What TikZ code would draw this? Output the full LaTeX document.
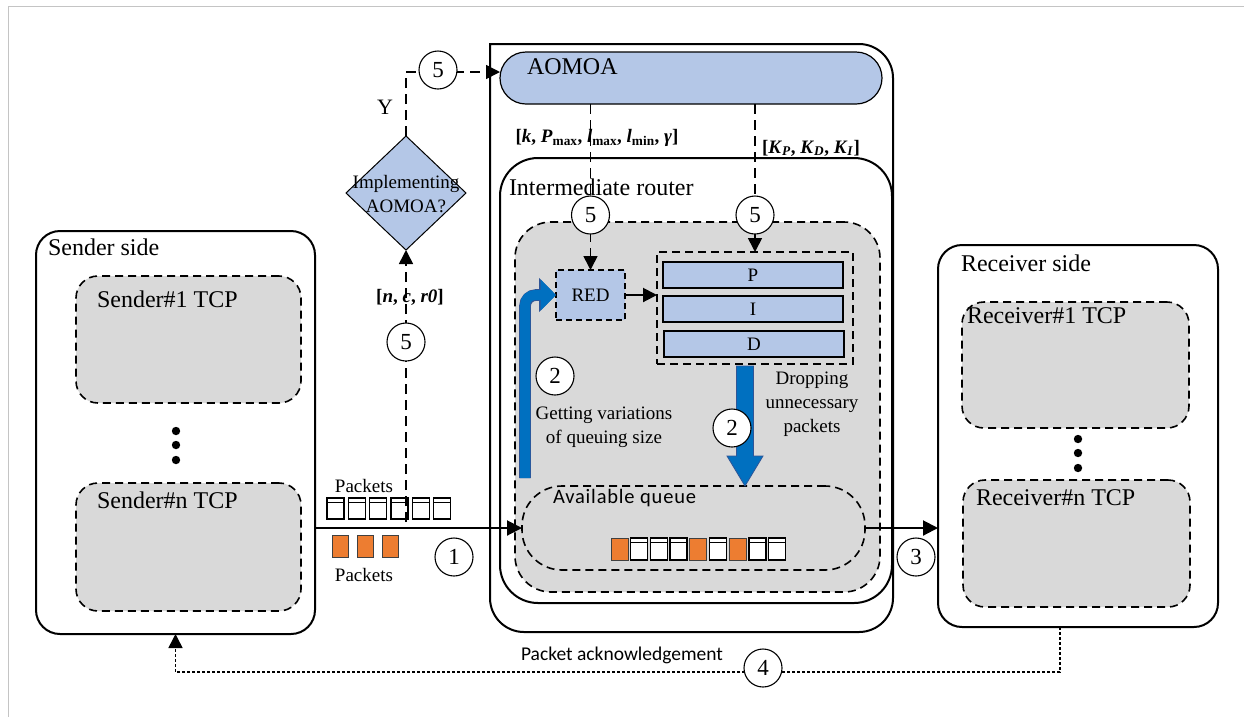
\documentclass[tikz,border=0pt]{standalone}
\usepackage{fontspec}
\setmainfont{Liberation Serif}
\newfontfamily\calib{Carlito}
\newfontfamily\calibwide[LetterSpace=4]{Carlito}
\usetikzlibrary{arrows.meta,shapes.geometric,calc}
\definecolor{paleblue}{HTML}{B4C7E7}
\definecolor{boxgray}{HTML}{D9D9D9}
\definecolor{flowblue}{HTML}{0070C0}
\definecolor{flowedge}{HTML}{2F5597}
\definecolor{pktorange}{HTML}{ED7D31}
\definecolor{framegray}{HTML}{C4C4C4}
\begin{document}
\begin{tikzpicture}[x=1pt,y=-1pt,
  every node/.style={inner sep=0pt,outer sep=0pt},
  f24/.style={font=\fontsize{24}{28}\selectfont},
  f22/.style={font=\fontsize{22}{26}\selectfont},
  f19/.style={font=\fontsize{19}{24}\selectfont},
  fbold/.style={font=\fontsize{19}{22}\selectfont\bfseries},
  fsans/.style={font=\calib\fontsize{19.5}{23}\selectfont},
  sidebox/.style={draw,line width=2pt,rounded corners=24pt,fill=white},
  tcpbox/.style={draw,fill=boxgray,line width=1.6pt,dash pattern=on 8pt off 5pt,rounded corners=22pt},
  bluebox/.style={draw,fill=paleblue,line width=1.3pt},
  numc/.style={circle,draw,fill=white,line width=1.1pt,minimum size=38pt,font=\fontsize{23}{24}\selectfont},
  linedash/.style={line width=1.6pt,dash pattern=on 10pt off 6pt},
  mainline/.style={line width=2pt},
  ackline/.style={line width=1.6pt,dash pattern=on 3pt off 2pt},
  arr/.style={-{Triangle[length=15pt,width=15pt]}},
  sarr/.style={-{Triangle[length=14pt,width=14pt]}},
  wpkt/.style={draw,fill=white,line width=1.3pt,minimum width=17pt,minimum height=21pt,
    path picture={\draw[line width=1pt] ([yshift=-4pt]path picture bounding box.north west) -- ([yshift=-4pt]path picture bounding box.north east);}},
  opkt/.style={draw=black!75,fill=pktorange,line width=0.8pt,minimum width=16pt,minimum height=22pt}
]
\useasboundingbox (0,0) rectangle (1244,716);
\fill[white] (0,0) rectangle (1244,716);
\draw[framegray,line width=1pt] (1250,6) -- (8,6) -- (8,720);

% ---------- sender side ----------
\node[sidebox,minimum width=279pt,minimum height=403pt] (sender) at (175.5,432.5) {};
\node[f24,anchor=west] (sendertitle) at (48,247) {Sender side};
\node[tcpbox,minimum width=225pt,minimum height=127pt] (snd1) at (188.5,339.5) {};
\node[f24,anchor=west] (snd1t) at (97,299) {Sender\#1 TCP};
\node[tcpbox,minimum width=225pt,minimum height=128pt] (sndn) at (188.5,547) {};
\node[f24,anchor=west] (sndnt) at (97,500) {Sender\#n TCP};
\foreach \yy in {431,445,460} \fill (176,\yy) circle (4.2pt);

% ---------- receiver side ----------
\node[sidebox,minimum width=280pt,minimum height=382pt] (receiver) at (1078,436) {};
\node[f24,anchor=west] (receivertitle) at (961,263) {Receiver side};
\node[tcpbox,minimum width=227pt,minimum height=126pt] (rcv1) at (1075.5,365) {};
\node[f24,anchor=west] (rcv1t) at (967,316) {Receiver\#1 TCP};
\node[tcpbox,minimum width=227pt,minimum height=127pt] (rcvn) at (1076.5,543.5) {};
\node[f24,anchor=west] (rcvnt) at (976,498) {Receiver\#n TCP};
\foreach \yy in {439,453,468} \fill (1078,\yy) circle (4.2pt);

% ---------- AOMOA frame (square top-left corner) and router ----------
\node[minimum width=403pt,minimum height=588pt] (aomoabox) at (691.5,338) {};
\draw[line width=2pt]
  ($(aomoabox.south west)+(0,-34)$) -- (aomoabox.north west)
  -- ($(aomoabox.north east)+(-34,0)$) arc[start angle=90,end angle=0,radius=34pt]
  -- ($(aomoabox.south east)+(0,-34)$) arc[start angle=0,end angle=-90,radius=34pt]
  -- ($(aomoabox.south west)+(34,0)$) arc[start angle=-90,end angle=-180,radius=34pt]
  -- cycle;
\node[draw,fill=paleblue,line width=1.2pt,rounded corners=26pt,minimum width=382pt,minimum height=52pt] (pill) at (691,78) {};
\node[f24,anchor=west] (pilltxt) at (527,67) {AOMOA};

\node[draw,line width=2pt,rounded corners=38pt,minimum width=392pt,minimum height=445pt] (router) at (696,380.5) {};
\node[f24,anchor=west] (routertxt) at (509,187) {Intermediate router};
\node[draw,fill=boxgray,line width=1.6pt,dash pattern=on 8pt off 5pt,rounded corners=36pt,minimum width=365pt,minimum height=370pt] (core) at (697.5,407) {};

\node[draw,line width=1.6pt,dash pattern=on 8pt off 5pt,rounded corners=40pt,minimum width=343pt,minimum height=84pt] (queue) at (693.5,528) {};
\node[font=\calibwide\fontsize{20.5}{23}\selectfont,anchor=west] (queuetxt) at (553,498) {Available queue};

\node[draw,fill=paleblue,line width=1.3pt,dash pattern=on 6pt off 4pt,minimum width=69pt,minimum height=50pt,f19] (red) at (590.5,295) {RED};
\node[draw,line width=1.3pt,dash pattern=on 8pt off 5pt,minimum width=196pt,minimum height=112pt] (pid) at (755,308) {};
\node[bluebox,minimum width=180pt,minimum height=26pt,f19] (pp) at (753,275) {P};
\node[bluebox,minimum width=180pt,minimum height=26pt,f19] (ii) at (753,309) {I};
\node[bluebox,minimum width=180pt,minimum height=26pt,f19] (dd) at (754,344) {D};

% ---------- decision ----------
\node[diamond,draw,fill=paleblue,line width=1pt,minimum width=120pt,minimum height=114pt] (dia) at (406,193) {};
\node[f19,align=center] (diatxt) at (406,194) {Implementing\\AOMOA?};

% ---------- packets ----------
\foreach \i in {0,...,5} \node[wpkt] (sw\i) at (335.5+21.3*\i,508.5) {};
\foreach \i in {0,1,2} \node[opkt] (so\i) at (340+25.3*\i,546) {};
\node[f19] (pkttop) at (364,486) {Packets};
\node[f19] (pktbot) at (364,575) {Packets};
\foreach \k/\s in {0/opkt,1/wpkt,2/wpkt,3/wpkt,4/opkt,5/wpkt,6/opkt,7/wpkt,8/wpkt}
  \node[\s,minimum width=17pt,minimum height=22pt] (q\k) at (619.5+19.7*\k,549) {};

% ---------- connectors ----------
\draw[linedash,sarr] (pill.south -| red.north) -- (red.north);
\draw[linedash,sarr] (pill.south -| pid.north) -- (pid.north);
\draw[line width=2pt,sarr] (red.east) -- (pid.west |- red.east);

\coordinate (pkup) at (406,522);
\draw[linedash,sarr] (pkup) -- (dia.south);
\draw[linedash,sarr] (dia.north) |- ([yshift=6pt]pill.west);

\draw[mainline,arr] (sender.east |- queue.west) -- (queue.west);
\draw[mainline,arr] (queue.east) -- (receiver.west |- queue.east);
\draw[ackline,sarr] ([xshift=-18pt]receiver.south) -- ++(0,45) -| (sender.south);

% blue flow arrows
\coordinate (dropA) at ([xshift=-10pt,yshift=-2pt]pid.south);
\coordinate (dropB) at (dropA |- queue.north);
\filldraw[fill=flowblue,draw=flowedge,line width=0.8pt]
  ($(dropA)+(-8.5,0)$) -- ($(dropA)+(8.5,0)$) -- ($(dropB)+(8.5,-30)$) -- ($(dropB)+(18,-30)$)
  -- (dropB) -- ($(dropB)+(-18,-30)$) -- ($(dropB)+(-8.5,-30)$) -- cycle;
\coordinate (bendA) at (525,478);
\draw[line width=11.6pt,flowedge,rounded corners=11pt,-{Triangle[length=17pt,width=33pt]}] (bendA) |- (red.west);
\draw[line width=10pt,flowblue,rounded corners=10pt,-{Triangle[length=15.5pt,width=30.5pt]}] (bendA) |- (red.west);

% ---------- labels ----------
\node[f22] (ytxt) at (385,107) {Y};
\node[fbold] (redpar) at (597,138) {[\textit{k}, \textit{P}\textsubscript{max}, \textit{l}\textsubscript{max}, \textit{l}\textsubscript{min}, \textit{γ}]};
\node[fbold] (pidpar) at (811,148) {[\textit{K}\textsubscript{\textit{P}}, \textit{K}\textsubscript{\textit{D}}, \textit{K}\textsubscript{\textit{I}}]};
\node[fbold] (ncr) at (410,297) {[\textit{n}, \textit{c}, \textit{r0}]};
\node[f19,align=center] (gettxt) at (604,427) {Getting variations\\of queuing size};
\node[f19,align=center] (droptxt) at (812,404) {Dropping\\unnecessary\\packets};
\node[fsans] (acktxt) at (622,655) {Packet acknowledgement};

% ---------- step numbers ----------
\node[numc] (n5a) at (438,70) {5};
\node[numc] (n5b) at (406,342) {5};
\node[numc] (n5c) at (590.5,215) {5};
\node[numc] (n5d) at (755,215) {5};
\node[numc] (n2a) at (555,376) {2};
\node[numc] (n2b) at (732,428) {2};
\node[numc] (n1) at (454,557) {1};
\node[numc] (n3) at (916,557) {3};
\node[numc] (n4) at (763,668) {4};
\end{tikzpicture}
\end{document}
